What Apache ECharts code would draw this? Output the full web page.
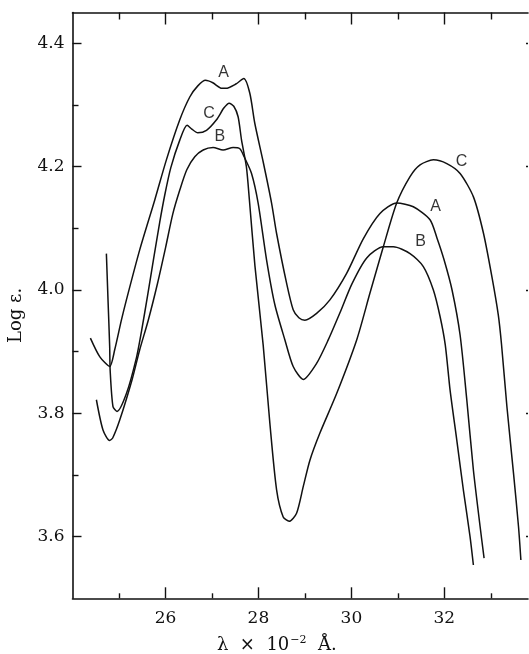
<!DOCTYPE html>
<html>
<head>
<meta charset="utf-8">
<script src="https://cdn.jsdelivr.net/npm/echarts@6/dist/echarts.min.js"></script>
<style>
html,body{margin:0;padding:0;background:#fff;}
#chart{width:529px;height:654px;}
</style>
</head>
<body>
<div id="chart"></div>
<script>
// ---- data (x = wavelength ×10^-2 Å, y = log ε) ----
const curveA = [[24.385,3.922],[24.585,3.892],[24.80,3.876],[24.908,3.903],[25.052,3.951],[25.16,3.984],[25.446,4.065],[25.77,4.146],[26.02,4.211],[26.308,4.276],[26.523,4.313],[26.696,4.331],[26.862,4.340],[27.019,4.336],[27.213,4.327],[27.30,4.327],[27.514,4.334],[27.686,4.343],[27.815,4.319],[27.923,4.270],[28.102,4.208],[28.283,4.141],[28.39,4.092],[28.606,4.011],[28.748,3.968],[28.87,3.955],[29.0,3.951],[29.252,3.962],[29.538,3.984],[29.898,4.027],[30.256,4.083],[30.615,4.124],[30.975,4.141],[31.333,4.135],[31.692,4.114],[31.843,4.084],[31.994,4.049],[32.166,4.0],[32.339,3.927],[32.483,3.822],[32.625,3.708],[32.77,3.616],[32.855,3.565]];
const curveB = [[24.514,3.822],[24.656,3.773],[24.80,3.756],[24.865,3.760],[25.016,3.789],[25.28,3.854],[25.446,3.903],[25.63,3.951],[25.83,4.011],[26.006,4.070],[26.157,4.123],[26.308,4.162],[26.459,4.195],[26.631,4.216],[26.81,4.227],[27.025,4.231],[27.24,4.227],[27.456,4.231],[27.60,4.229],[27.693,4.216],[27.852,4.189],[27.994,4.141],[28.175,4.049],[28.354,3.976],[28.57,3.919],[28.748,3.876],[28.964,3.855],[29.252,3.881],[29.502,3.919],[29.754,3.963],[30.012,4.010],[30.33,4.052],[30.687,4.070],[30.902,4.070],[31.262,4.059],[31.548,4.038],[31.764,4.0],[31.908,3.957],[32.02,3.911],[32.123,3.838],[32.267,3.757],[32.409,3.676],[32.553,3.6],[32.625,3.554]];
const curveC = [[24.729,4.059],[24.764,3.984],[24.80,3.908],[24.81,3.870],[24.871,3.811],[24.958,3.803],[25.16,3.832],[25.375,3.890],[25.489,3.935],[25.618,3.992],[25.748,4.052],[25.877,4.110],[25.985,4.154],[26.114,4.198],[26.308,4.243],[26.465,4.267],[26.566,4.261],[26.696,4.255],[26.883,4.259],[27.098,4.276],[27.256,4.295],[27.37,4.303],[27.47,4.298],[27.563,4.281],[27.637,4.243],[27.741,4.2],[27.806,4.146],[27.924,4.040],[28.102,3.911],[28.246,3.784],[28.391,3.676],[28.533,3.632],[28.662,3.625],[28.821,3.638],[28.964,3.681],[29.108,3.724],[29.323,3.768],[29.683,3.832],[30.114,3.919],[30.40,3.995],[30.687,4.070],[30.975,4.141],[31.262,4.184],[31.478,4.203],[31.764,4.211],[32.053,4.205],[32.339,4.189],[32.626,4.151],[32.842,4.092],[33.022,4.022],[33.16,3.960],[33.23,3.912],[33.346,3.811],[33.488,3.703],[33.596,3.616],[33.647,3.562]];
const curveLabels = [['A',27.25,4.352],['C',26.94,4.286],['B',27.17,4.248],['C',32.37,4.208],['A',31.81,4.136],['B',31.49,4.078]];
const xMajorTicks = [26,28,30,32];
const xMinorTicks = [25,27,29,31,33];
const yMajorTicks = [3.6,3.8,4.0,4.2,4.4];
const yMinorTicks = [3.7,3.9,4.1,4.3];
const xRange = [24, 33.8];
const yRange = [3.5, 4.45];

const INK = '#111';
const SERIF = 'DejaVu Serif';

const chart = echarts.init(document.getElementById('chart'), null, {renderer:'canvas'});

function xAx(pos, ticks, len, showLine, showLabel){
  return {
    type:'value', position:pos, min:xRange[0], max:xRange[1],
    axisLine:{show:showLine, onZero:false, lineStyle:{color:INK, width:1.6}},
    axisTick:{show:true, inside:true, length:len, customValues:ticks, lineStyle:{color:INK, width:1.4}},
    axisLabel:{show:showLabel, customValues:ticks, margin:12, color:INK, fontFamily:SERIF, fontSize:17},
    splitLine:{show:false}
  };
}
function yAx(pos, ticks, len, showLine, showLabel){
  return {
    type:'value', position:pos, min:yRange[0], max:yRange[1],
    axisLine:{show:showLine, onZero:false, lineStyle:{color:INK, width:1.6}},
    axisTick:{show:true, inside:true, length:len, customValues:ticks, lineStyle:{color:INK, width:1.4}},
    axisLabel:{show:showLabel, customValues:ticks, margin:8, color:INK, fontFamily:SERIF, fontSize:17,
      formatter: v => v.toFixed(1)},
    splitLine:{show:false}
  };
}

const xAxes = [
  xAx('bottom', xMajorTicks, 11, true, true),
  xAx('bottom', xMinorTicks, 5, false, false),
  xAx('top', xMajorTicks, 12, true, false),
  xAx('top', xMinorTicks, 7, false, false)
];
const yAxes = [
  yAx('left', yMajorTicks, 9, true, true),
  yAx('left', yMinorTicks, 6, false, false),
  yAx('right', yMajorTicks, 2, false, false)
];
yAxes[0].name = 'Log ε.';
yAxes[0].nameLocation = 'middle';
yAxes[0].nameRotate = 90;
yAxes[0].nameGap = 47;
yAxes[0].nameTextStyle = {fontFamily:SERIF, fontSize:18, color:INK, padding:[0,20,0,0]};

function lineSeries(name, data){
  return {
    name, type:'line', data, xAxisIndex:0, yAxisIndex:0,
    showSymbol:false, smooth:0.25, clip:false,
    lineStyle:{color:INK, width:1.5}, silent:true, animation:false, z:3
  };
}

const option = {
  backgroundColor:'#fff',
  animation:false,
  grid:{left:72.5, right:1, top:12.5, bottom:55.7, containLabel:false, outerBoundsMode:'none'},
  xAxis: xAxes,
  yAxis: yAxes,
  title:{
    text:'{t|λ  ×  10}{s|−2}{t|  Å.}',
    left:212, top:630,
    textStyle:{fontWeight:'normal', rich:{
      t:{fontFamily:SERIF, fontSize:18, color:INK, fontWeight:'normal'},
      s:{fontFamily:SERIF, fontSize:11, color:INK, fontWeight:'normal', verticalAlign:'top', padding:[0,0,10,1]}
    }}
  },
  series:[
    lineSeries('A', curveA),
    lineSeries('B', curveB),
    lineSeries('C', curveC),
    {
      type:'scatter', xAxisIndex:0, yAxisIndex:0, symbolSize:0, silent:true,
      data: curveLabels.map(d => ({value:[d[1], d[2]], name:d[0]})),
      label:{show:true, position:'inside', formatter: p => p.name,
        fontFamily:'Liberation Sans', fontSize:16, color:'#000'}
    }
  ]
};
chart.setOption(option);
</script>
</body>
</html>
